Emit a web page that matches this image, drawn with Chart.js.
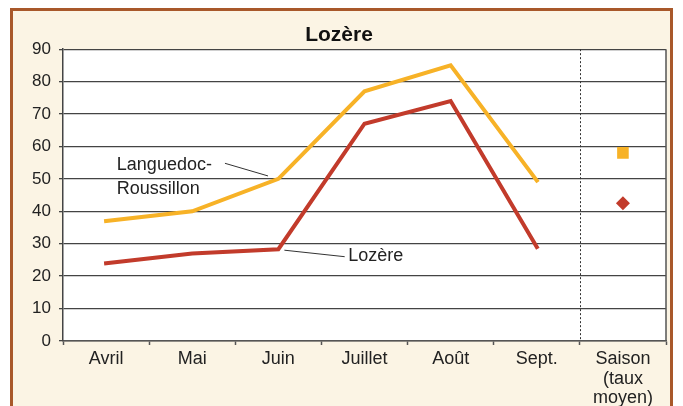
<!DOCTYPE html>
<html><head><meta charset="utf-8">
<script src="https://cdn.jsdelivr.net/npm/chart.js@4/dist/chart.umd.min.js"></script>
<style>
html,body{margin:0;padding:0;background:#fff;width:683px;height:406px;overflow:hidden;}
#frame{position:absolute;left:10px;top:8px;width:663px;height:410px;border:3px solid #a8582a;background:#fbf4e4;box-sizing:border-box;}
canvas{position:absolute;left:0;top:0;}
</style></head><body>
<div id="frame"></div>
<canvas id="c" width="683" height="406"></canvas>
<script>
const categories = ['Avril','Mai','Juin','Juillet','Août','Sept.',['Saison','(taux','moyen)']];
const languedoc = [37, 40, 50, 77, 85, 49.5, null];
const lozere = [24, 27, 28.3, 67, 74, 29, null];
const saisonLanguedoc = [null, null, null, null, null, null, 58];
const saisonLozere = [null, null, null, null, null, null, 42.5];
const yTicks = [0,10,20,30,40,50,60,70,80,90];

const ORANGE = '#f7b227';
const RED = '#c23b2b';
const FONT = '"Liberation Sans", Arial, sans-serif';

const decor = {
  id: 'decor',
  beforeDraw(chart) {
    const {ctx, chartArea: a} = chart;
    ctx.save();
    ctx.fillStyle = '#ffffff';
    ctx.fillRect(a.left, a.top, a.right - a.left, a.bottom - a.top);
    ctx.restore();
  },
  afterDatasetsDraw(chart) {
    const {ctx, chartArea: a, scales: {x, y}} = chart;
    ctx.save();
    const sx = Math.round((x.getPixelForValue(5) + x.getPixelForValue(6)) / 2) + 0.5;
    ctx.strokeStyle = '#333';
    ctx.lineWidth = 1;
    ctx.setLineDash([2, 2]);
    ctx.beginPath(); ctx.moveTo(sx, a.top); ctx.lineTo(sx, a.bottom); ctx.stroke();
    ctx.setLineDash([]);
    ctx.strokeStyle = '#555';
    ctx.lineWidth = 1.5;
    ctx.beginPath(); ctx.moveTo(a.right, a.top); ctx.lineTo(a.right, a.bottom); ctx.stroke();
    ctx.fillStyle = '#222';
    ctx.font = '18px ' + FONT;
    ctx.textBaseline = 'middle';
    ctx.textAlign = 'left';
    ctx.fillText('Languedoc-', x.getPixelForValue(0.125), y.getPixelForValue(54.3));
    ctx.fillText('Roussillon', x.getPixelForValue(0.125), y.getPixelForValue(46.9));
    ctx.fillText('Lozère', x.getPixelForValue(2.81), y.getPixelForValue(26.2));
    ctx.strokeStyle = '#333';
    ctx.lineWidth = 1;
    ctx.beginPath();
    ctx.moveTo(x.getPixelForValue(1.38), y.getPixelForValue(54.8));
    ctx.lineTo(x.getPixelForValue(1.88), y.getPixelForValue(50.9));
    ctx.moveTo(x.getPixelForValue(2.07), y.getPixelForValue(28.0));
    ctx.lineTo(x.getPixelForValue(2.77), y.getPixelForValue(26.0));
    ctx.stroke();
    ctx.restore();
  }
};

new Chart(document.getElementById('c'), {
  type: 'line',
  data: {
    labels: categories,
    datasets: [
      {label: 'Languedoc-Roussillon', data: languedoc, borderColor: ORANGE, borderWidth: 4, pointRadius: 0, borderCapStyle: 'square', borderJoinStyle: 'miter', tension: 0},
      {label: 'Lozère', data: lozere, borderColor: RED, borderWidth: 4, pointRadius: 0, borderCapStyle: 'square', borderJoinStyle: 'miter', tension: 0},
      {label: 'Saison Languedoc-Roussillon', data: saisonLanguedoc, showLine: false, pointStyle: 'rect', pointRadius: 8.2, backgroundColor: ORANGE, borderColor: ORANGE, borderWidth: 0},
      {label: 'Saison Lozère', data: saisonLozere, showLine: false, pointStyle: 'rectRot', pointRadius: 7, backgroundColor: RED, borderColor: RED, borderWidth: 0}
    ]
  },
  options: {
    responsive: false,
    animation: false,
    devicePixelRatio: 1,
    layout: {padding: {left: 12, right: 17, top: 0, bottom: 0}},
    plugins: {
      legend: {display: false},
      tooltip: {enabled: false},
      title: {display: true, text: 'Lozère', color: '#111', font: {family: FONT, size: 21, weight: 'bold', lineHeight: 1.15}, padding: {top: 23, bottom: 2}}
    },
    scales: {
      x: {
        offset: true,
        grid: {offset: true, drawOnChartArea: false, drawTicks: true, tickLength: 4, tickColor: '#555', tickWidth: 1.5},
        border: {color: '#555', width: 1.5},
        ticks: {color: '#222', font: {family: FONT, size: 18, lineHeight: 1.1}, padding: 4, maxRotation: 0, autoSkip: false},
        afterFit(s) { s.height = 65; }
      },
      y: {
        min: 0, max: 90,
        afterBuildTicks(s) { s.ticks = yTicks.map(v => ({value: v})); },
        grid: {color: '#444', lineWidth: 1.3, tickLength: 4, tickColor: '#444'},
        border: {color: '#444', width: 1.5},
        ticks: {color: '#222', font: {family: FONT, size: 17}, padding: 8},
        afterFit(s) { s.width = 51; }
      }
    }
  },
  plugins: [decor]
});
</script>
</body></html>
